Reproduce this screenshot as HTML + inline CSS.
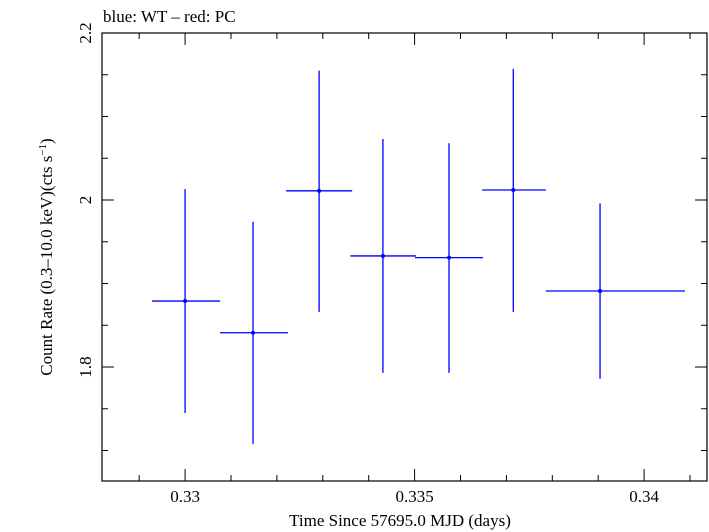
<!DOCTYPE html>
<html><head><meta charset="utf-8"><style>
body{margin:0;background:#fff}
svg{display:block;font-family:"Liberation Serif",serif}
</style></head><body>
<svg id="chart" width="709" height="532" xmlns="http://www.w3.org/2000/svg">
<text x="103" y="22" font-size="17">blue: WT – red: PC</text>
<rect x="102" y="33" width="605" height="448" fill="none" stroke="#000" stroke-width="1.2"/>
<g id="ticks"></g>
<g id="marks"></g>
<text x="400" y="526" font-size="17" text-anchor="middle">Time Since 57695.0 MJD (days)</text>
<text transform="translate(52,257) rotate(-90)" font-size="17" text-anchor="middle">Count Rate (0.3–10.0 keV)(cts s<tspan dy="-6" font-size="11">−1</tspan><tspan dy="6">)</tspan></text>
</svg>
<script>
const times=[0.33,0.33148,0.33292,0.33431,0.33575,0.33715,0.33904];
const tLo=[0.32928,0.33076,0.3322,0.3336,0.33501,0.33647,0.33786];
const tHi=[0.33076,0.33224,0.33364,0.33503,0.33649,0.33786,0.34089];
const rates=[1.879,1.841,2.011,1.933,1.931,2.012,1.891];
const rateLo=[1.745,1.708,1.866,1.793,1.793,1.866,1.786];
const rateHi=[2.013,1.974,2.155,2.073,2.068,2.157,1.996];
const xTickLabels=["0.33","0.335","0.34"];
const yTickLabels=["1.8","2","2.2"];
const NS="http://www.w3.org/2000/svg";
const X0=102,X1=707,Y0=33,Y1=481,xmin=0.32819,xmax=0.34137,ymin=1.6635,ymax=2.2;
const xs=v=>X0+(v-xmin)/(xmax-xmin)*(X1-X0);
const ys=v=>Y1-(v-ymin)/(ymax-ymin)*(Y1-Y0);
function mk(tag,attrs,parent){const e=document.createElementNS(NS,tag);for(const k in attrs)e.setAttribute(k,attrs[k]);parent.appendChild(e);return e;}
const tg=document.getElementById('ticks');
for(let i=0;i*0.001+0.329<xmax;i++){const v=0.329+i*0.001;const x=xs(v);const major=Math.abs((v*1000)%5)<1e-6||Math.abs((v*1000)%5-5)<1e-6;const L=major?12:6;
const t=mk('line',{x1:x,x2:x,y1:Y1,y2:Y1-L,stroke:'#000'},tg);


const t2=mk('line',{x1:x,x2:x,y1:Y0,y2:Y0+L,stroke:'#000'},tg);

}
xTickLabels.forEach(s=>{const e=mk('text',{x:xs(parseFloat(s)),y:502,'font-size':17,'text-anchor':'middle'},tg);e.textContent=s;

});
for(let i=0;i<=10;i++){const v=1.7+i*0.05;if(v>ymax+1e-9)break;const y=ys(v);const major=Math.abs(Math.round(v*10)-v*10)<1e-6&&Math.round(v*10)%2===0;const L=major?12:6;
const t=mk('line',{x1:X0,x2:X0+L,y1:y,y2:y,stroke:'#000'},tg);


const t2=mk('line',{x1:X1,x2:X1-L,y1:y,y2:y,stroke:'#000'},tg);

}
yTickLabels.forEach(s=>{const y=ys(parseFloat(s));const e=mk('text',{transform:`translate(91,${y}) rotate(-90)`,'font-size':17,'text-anchor':'middle'},tg);e.textContent=s;

});
const mg=document.getElementById('marks');
times.forEach((t,i)=>{const g=mk('g',{stroke:'#0000ff','stroke-width':1.3},mg);


mk('line',{x1:xs(tLo[i]),x2:xs(tHi[i]),y1:ys(rates[i]),y2:ys(rates[i])},g);
mk('line',{x1:xs(t),x2:xs(t),y1:ys(rateLo[i]),y2:ys(rateHi[i])},g);
mk('circle',{cx:xs(t),cy:ys(rates[i]),r:2,fill:'#0000ff',stroke:'none'},g);});
</script>
</body></html>
